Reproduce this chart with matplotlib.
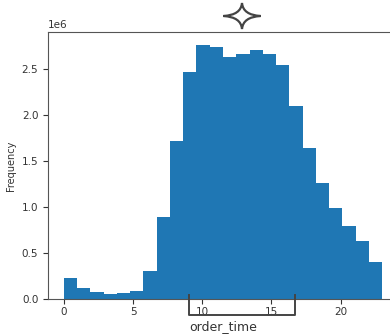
import numpy as np
import matplotlib
matplotlib.use("Agg")
import matplotlib.pyplot as plt
from matplotlib.path import Path
from matplotlib.patches import PathPatch
from matplotlib.lines import Line2D

# hourly order counts (in millions)
hours = np.arange(24)
counts = [0.23, 0.12, 0.075, 0.058, 0.065, 0.09, 0.30, 0.89, 1.72, 2.46,
          2.76, 2.74, 2.63, 2.66, 2.70, 2.66, 2.54, 2.10, 1.64, 1.26,
          0.99, 0.79, 0.63, 0.40]

W, H = 390, 336
fig = plt.figure(figsize=(W / 100, H / 100), dpi=100)
ax = fig.add_axes([48 / W, 37 / H, 350 / W, 267 / H])

ax.hist(hours, bins=24, weights=np.array(counts) * 1e6, color="#1f77b4")
ax.set_xlabel("order_time", fontsize=9, color="#333333", labelpad=2)
ax.set_ylabel("Frequency", fontsize=7, color="#333333")
ax.tick_params(labelsize=7.5, colors="#333333")
ax.tick_params(axis="x", pad=2.5)
for s in ax.spines.values():
    s.set_color("#555555")
ax.yaxis.get_offset_text().set_fontsize(7.5)


# helper: pixel coords (from top-left) -> figure fraction
def px(x, y):
    return (x / W, 1 - y / H)


# bracket under the x axis
bx = [189, 189, 295, 295]
by = [295, 315, 315, 295]
fig.lines.append(Line2D([px(x, 0)[0] for x in bx], [px(0, y)[1] for y in by],
                        transform=fig.transFigure, color="#444444", lw=1.4,
                        solid_joinstyle="round"))

# four-point star above the plot
cx, cy, rx, ry, k = 242, 16, 18.5, 13, 1.0
verts = [px(cx + rx, cy), px(cx + k, cy - k), px(cx, cy - ry),
         px(cx - k, cy - k), px(cx - rx, cy),
         px(cx - k, cy + k), px(cx, cy + ry),
         px(cx + k, cy + k), px(cx + rx, cy), px(cx + rx, cy)]
codes = [Path.MOVETO, Path.CURVE3, Path.CURVE3, Path.CURVE3, Path.CURVE3,
         Path.CURVE3, Path.CURVE3, Path.CURVE3, Path.CURVE3, Path.CLOSEPOLY]
star = PathPatch(Path(verts, codes), transform=fig.transFigure,
                 facecolor="white", edgecolor="#444444", lw=1.6,
                 joinstyle="miter")
fig.patches.append(star)

fig.savefig("out.png", dpi=100)
